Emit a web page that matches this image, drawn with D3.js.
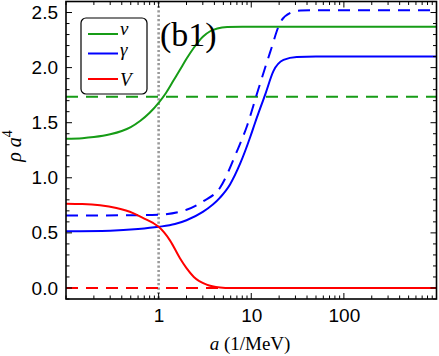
<!DOCTYPE html>
<html>
<head>
<meta charset="utf-8">
<script src="https://cdn.jsdelivr.net/npm/d3@7"></script>
<style>
  body { margin: 0; background: #fff; }
  svg { display: block; }
  .tick-label { font-family: "Liberation Sans", Arial, sans-serif; font-size: 19px; fill: #000; }
  .serif { font-family: "Liberation Serif", "Times New Roman", serif; fill: #000; }
</style>
</head>
<body>
<svg id="chart" width="439" height="356"></svg>
<script>
// data: [a (1/MeV), rho a^4]
var nuSolid = [[0.1,1.355],[0.15,1.36],[0.2,1.37],[0.3,1.395],[0.4,1.425],[0.5,1.46],[0.63,1.515],[0.8,1.59],[1.0,1.68],[1.2,1.77],[1.44,1.88],[1.7,1.98],[2.0,2.08],[2.4,2.18],[3.0,2.28],[3.6,2.33],[4.3,2.355],[5.5,2.368],[8,2.37],[1000,2.37]]
var nuDashed = [[0.1,1.735],[1000,1.735]]
var gammaSolid = [[0.1,0.515],[0.3,0.52],[0.6,0.535],[1.0,0.555],[1.5,0.58],[2.0,0.615],[3.0,0.69],[4.6,0.82],[5.9,0.94],[7.6,1.13],[9.75,1.37],[11,1.50],[14.2,1.76],[17.4,1.97],[22.3,2.07],[31,2.097],[50,2.1],[1000,2.1]]
var gammaDashed = [[0.1,0.657],[0.5,0.66],[1.0,0.665],[2.0,0.71],[3.0,0.785],[4.6,0.91],[7.0,1.24],[9.0,1.47],[11.5,1.76],[16,2.14],[20.6,2.41],[26.5,2.497],[34,2.518],[50,2.52],[1000,2.52]]
var vSolid = [[0.1,0.765],[0.15,0.762],[0.233,0.75],[0.35,0.725],[0.53,0.68],[0.7,0.63],[0.87,0.59],[1.0,0.555],[1.33,0.43],[1.7,0.27],[2.0,0.18],[2.4,0.10],[3.3,0.03],[4.6,0.005],[6,0],[1000,0]]
var vDashed = [[0.1,0],[1000,0]]
var markerA = 1

var xTicks = [1, 10, 100]
var yTicks = [0, 0.5, 1.0, 1.5, 2.0, 2.5]
var legendNames = ["ν", "γ", "V"]
var colors = ["#169c16", "#0000ff", "#ff0000"]

var svg = d3.select('#chart')
var pLeft = 66, pRight = 436.5, pTop = 1.5, pBottom = 299

var x = d3.scaleLog().domain([0.1, 1000]).range([pLeft, pRight])
var y = d3.scaleLinear().domain([-0.1, 2.6]).range([pBottom, pTop])

var line = d3.line()
  .x(function(d){ return x(d[0]) })
  .y(function(d){ return y(d[1]) })
  .curve(d3.curveMonotoneX)

var clip = svg.append('clipPath').attr('id', 'plot-clip')
clip.append('rect').attr('x', pLeft).attr('y', pTop).attr('width', pRight - pLeft).attr('height', pBottom - pTop)

var plot = svg.append('g').attr('clip-path', 'url(#plot-clip)')

// dotted marker at a = 1
plot.append('line')
  .attr('x1', x(markerA)).attr('x2', x(markerA))
  .attr('y1', pTop).attr('y2', pBottom)
  .attr('stroke', '#9a9a9a').attr('stroke-width', 2.6)
  .attr('stroke-dasharray', '2.2,2.2')

var series = [
  { data: nuDashed, color: colors[0], dash: '12,8' },
  { data: gammaDashed, color: colors[1], dash: '12,8' },
  { data: vDashed, color: colors[2], dash: '12,8' },
  { data: nuSolid, color: colors[0], dash: null },
  { data: gammaSolid, color: colors[1], dash: null },
  { data: vSolid, color: colors[2], dash: null }
]

series.forEach(function(s){
  plot.append('path')
    .attr('d', line(s.data))
    .attr('fill', 'none')
    .attr('stroke', s.color)
    .attr('stroke-width', 2)
    .attr('stroke-dasharray', s.dash)
})

// frame with inward ticks on every side
var frame = svg.append('g')

var xAxisB = d3.axisBottom(x).tickValues(xTicks).tickFormat(d3.format('d')).tickSize(0).tickPadding(10)
var yAxisL = d3.axisLeft(y).tickValues(yTicks).tickFormat(d3.format('.1f')).tickSize(0).tickPadding(8)

var gx = frame.append('g').attr('transform', 'translate(0,' + pBottom + ')').call(xAxisB)
gx.select('.domain').remove()
gx.selectAll('text').attr('class', 'tick-label').attr('font-size', null).attr('font-family', null)

var gy = frame.append('g').attr('transform', 'translate(' + pLeft + ',0)').call(yAxisL)
gy.select('.domain').remove()
gy.selectAll('text').attr('class', 'tick-label').attr('font-size', null).attr('font-family', null)

var minorX = []
for (var e = -1; e < 3; e++) {
  for (var k = 1; k < 10; k++) minorX.push(k * Math.pow(10, e))
}
minorX.push(1000)
var minorY = d3.range(-0.1, 2.61, 0.1)

var ticks = frame.append('g').attr('stroke', '#000').attr('stroke-width', 1)
minorX.forEach(function(v){
  var major = xTicks.indexOf(v) >= 0
  var len = major ? 6 : 3.5
  ticks.append('line').attr('x1', x(v)).attr('x2', x(v)).attr('y1', pBottom).attr('y2', pBottom - len)
  ticks.append('line').attr('x1', x(v)).attr('x2', x(v)).attr('y1', pTop).attr('y2', pTop + len)
})
minorY.forEach(function(v){
  v = Math.round(v * 10) / 10
  var major = Math.abs(v * 2 - Math.round(v * 2)) < 1e-6
  var len = major ? 6 : 3.5
  ticks.append('line').attr('x1', pLeft).attr('x2', pLeft + len).attr('y1', y(v)).attr('y2', y(v))
  ticks.append('line').attr('x1', pRight).attr('x2', pRight - len).attr('y1', y(v)).attr('y2', y(v))
})

frame.append('rect')
  .attr('x', pLeft).attr('y', pTop).attr('width', pRight - pLeft).attr('height', pBottom - pTop)
  .attr('fill', 'none').attr('stroke', '#000').attr('stroke-width', 1.6)

// axis titles
var xt = svg.append('text').attr('class', 'serif').attr('x', 250).attr('y', 350)
  .attr('text-anchor', 'middle').attr('font-size', 19)
xt.append('tspan').attr('font-style', 'italic').text('a')
xt.append('tspan').text(' (1/MeV)')

var yt = svg.append('text').attr('class', 'serif')
  .attr('transform', 'translate(21,146) rotate(-90)')
  .attr('text-anchor', 'middle').attr('font-size', 20)
yt.append('tspan').attr('font-style', 'italic').text('ρ a')
yt.append('tspan').attr('font-size', 14).attr('dy', -9).text('4')

// panel label
svg.append('text').attr('class', 'serif').attr('x', 160).attr('y', 46)
  .attr('font-size', 34).text('(b1)')

// legend
var lg = svg.append('g')
lg.append('rect').attr('x', 81).attr('y', 18).attr('width', 66).attr('height', 76)
  .attr('rx', 5).attr('fill', '#fff').attr('stroke', '#000').attr('stroke-width', 1.2)
var rowY = [34, 53.5, 79]
var labelY = [35, 56, 86]
legendNames.forEach(function(name, i){
  lg.append('line').attr('x1', 88).attr('x2', 118).attr('y1', rowY[i]).attr('y2', rowY[i])
    .attr('stroke', colors[i]).attr('stroke-width', 2)
  lg.append('text').attr('class', 'serif').attr('x', 120).attr('y', labelY[i])
    .attr('font-size', 19).attr('font-style', 'italic').text(name)
})
</script>
</body>
</html>
